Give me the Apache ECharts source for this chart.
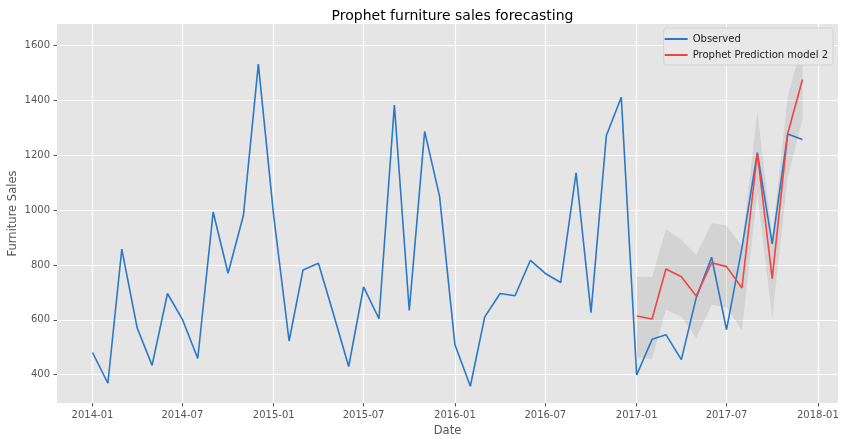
<!DOCTYPE html>
<html>
<head>
<meta charset="utf-8">
<script src="https://cdn.jsdelivr.net/npm/echarts@6/dist/echarts.min.js"></script>
<style>
  html, body { margin: 0; padding: 0; background: #fff; }
  #chart { width: 848px; height: 445px; }
</style>
</head>
<body>
<div id="chart"></div>
<script>
// monthly observed furniture sales, 2014-01 .. 2017-12
const months = [
  '2014-01', '2014-02', '2014-03', '2014-04', '2014-05', '2014-06', '2014-07', '2014-08', '2014-09', '2014-10', '2014-11', '2014-12',
  '2015-01', '2015-02', '2015-03', '2015-04', '2015-05', '2015-06', '2015-07', '2015-08', '2015-09', '2015-10', '2015-11', '2015-12',
  '2016-01', '2016-02', '2016-03', '2016-04', '2016-05', '2016-06', '2016-07', '2016-08', '2016-09', '2016-10', '2016-11', '2016-12',
  '2017-01', '2017-02', '2017-03', '2017-04', '2017-05', '2017-06', '2017-07', '2017-08', '2017-09', '2017-10', '2017-11', '2017-12'
]
const observed = [
  481, 369, 858, 570, 434, 696, 602, 459, 993, 770, 981, 1532,
  978, 523, 782, 806, 623, 430, 720, 604, 1383, 634, 1287, 1050,
  509, 358, 611, 696, 688, 817, 769, 736, 1136, 626, 1272, 1411,
  399, 529, 546, 455, 681, 828, 564, 862, 1209, 877, 1277, 1257
]

// prophet forecast for 2017
const forecastMonths = months.slice(36)
const prediction = [614, 603, 785, 757, 687, 808, 794, 716, 1207, 750, 1277, 1476]
const upper = [757, 756, 930, 892, 835, 952, 944, 868, 1359, 900, 1410, 1614]
const lower = [463, 457, 638, 611, 534, 655, 645, 562, 1062, 606, 1117, 1330]

const xTicks = ['2014-01', '2014-07', '2015-01', '2015-07', '2016-01', '2016-07', '2017-01', '2017-07', '2018-01']
const yTicks = [400, 600, 800, 1000, 1200, 1400, 1600]

const toTime = (m) => Date.UTC(+m.slice(0, 4), +m.slice(5, 7) - 1, 1)
const DAY = 24 * 3600 * 1000
const xPad = 71.5 * DAY

const obsData = months.map((m, i) => [toTime(m), observed[i]])
const predData = forecastMonths.map((m, i) => [toTime(m), prediction[i]])
const lowerData = forecastMonths.map((m, i) => [toTime(m), lower[i]])
const bandData = forecastMonths.map((m, i) => [toTime(m), upper[i] - lower[i]])

const font = 'DejaVu Sans'
const chart = echarts.init(document.getElementById('chart'))
chart.setOption({
  useUTC: true,
  animation: false,
  backgroundColor: '#fff',
  textStyle: { fontFamily: font },
  title: {
    text: 'Prophet furniture sales forecasting',
    left: 447.5,
    top: 4,
    textAlign: 'center',
    textStyle: { fontFamily: font, fontSize: 14, fontWeight: 'normal', color: '#000' }
  },
  legend: {
    orient: 'vertical',
    right: 15,
    top: 28,
    padding: [5, 5, 4, 1],
    itemGap: 4,
    itemWidth: 23,
    itemHeight: 2,
    icon: 'rect',
    backgroundColor: 'rgba(232,232,232,0.9)',
    borderColor: '#d2d2d2',
    borderWidth: 1,
    borderRadius: 3,
    textStyle: { fontFamily: font, fontSize: 10, color: '#222', lineHeight: 12 },
    data: ['Observed', 'Prophet Prediction model 2']
  },
  grid: {
    left: 57, right: 10, top: 24, bottom: 42,
    outerBoundsMode: 'none', containLabel: false,
    show: true, backgroundColor: '#e5e5e5', borderWidth: 0
  },
  xAxis: {
    type: 'time',
    min: toTime(months[0]) - xPad,
    max: toTime(months[months.length - 1]) + xPad,
    name: 'Date',
    nameLocation: 'middle',
    nameGap: 22,
    nameMoveOverlap: false,
    nameTextStyle: { fontFamily: font, fontSize: 11.5, color: '#555' },
    axisLine: { show: false },
    axisTick: { show: true, length: 3.5, lineStyle: { color: '#555' }, customValues: xTicks.map(toTime) },
    axisLabel: {
      customValues: xTicks.map(toTime),
      formatter: '{yyyy}-{MM}',
      fontFamily: font, fontSize: 10, color: '#555', margin: 7
    },
    splitLine: { show: true, lineStyle: { color: '#fff', width: 1.2 } }
  },
  yAxis: {
    type: 'value',
    min: 297,
    max: 1678,
    name: 'Furniture Sales',
    nameLocation: 'middle',
    nameGap: 38,
    nameMoveOverlap: false,
    nameTextStyle: { fontFamily: font, fontSize: 11.5, color: '#555' },
    axisLine: { show: false },
    axisTick: { show: true, length: 3.5, lineStyle: { color: '#555' }, customValues: yTicks },
    axisLabel: {
      customValues: yTicks,
      formatter: (v) => String(v),
      fontFamily: font, fontSize: 10, color: '#555', margin: 7
    },
    splitLine: { show: true, lineStyle: { color: '#fff', width: 1.2 } }
  },
  series: [
    {
      name: 'bandLower',
      type: 'line',
      stack: 'band',
      data: lowerData,
      symbol: 'none',
      lineStyle: { opacity: 0 },
      silent: true
    },
    {
      name: 'bandWidth',
      type: 'line',
      stack: 'band',
      data: bandData,
      symbol: 'none',
      lineStyle: { opacity: 0 },
      areaStyle: { color: 'rgba(140,140,140,0.28)' },
      silent: true
    },
    {
      name: 'Observed',
      type: 'line',
      data: obsData,
      symbol: 'none',
      color: '#2a78c8',
      lineStyle: { width: 1.6, color: '#2a78c8' }
    },
    {
      name: 'Prophet Prediction model 2',
      type: 'line',
      data: predData,
      symbol: 'none',
      color: '#f04444',
      lineStyle: { width: 1.6, color: '#f04444' }
    }
  ]
})
</script>
</body>
</html>
